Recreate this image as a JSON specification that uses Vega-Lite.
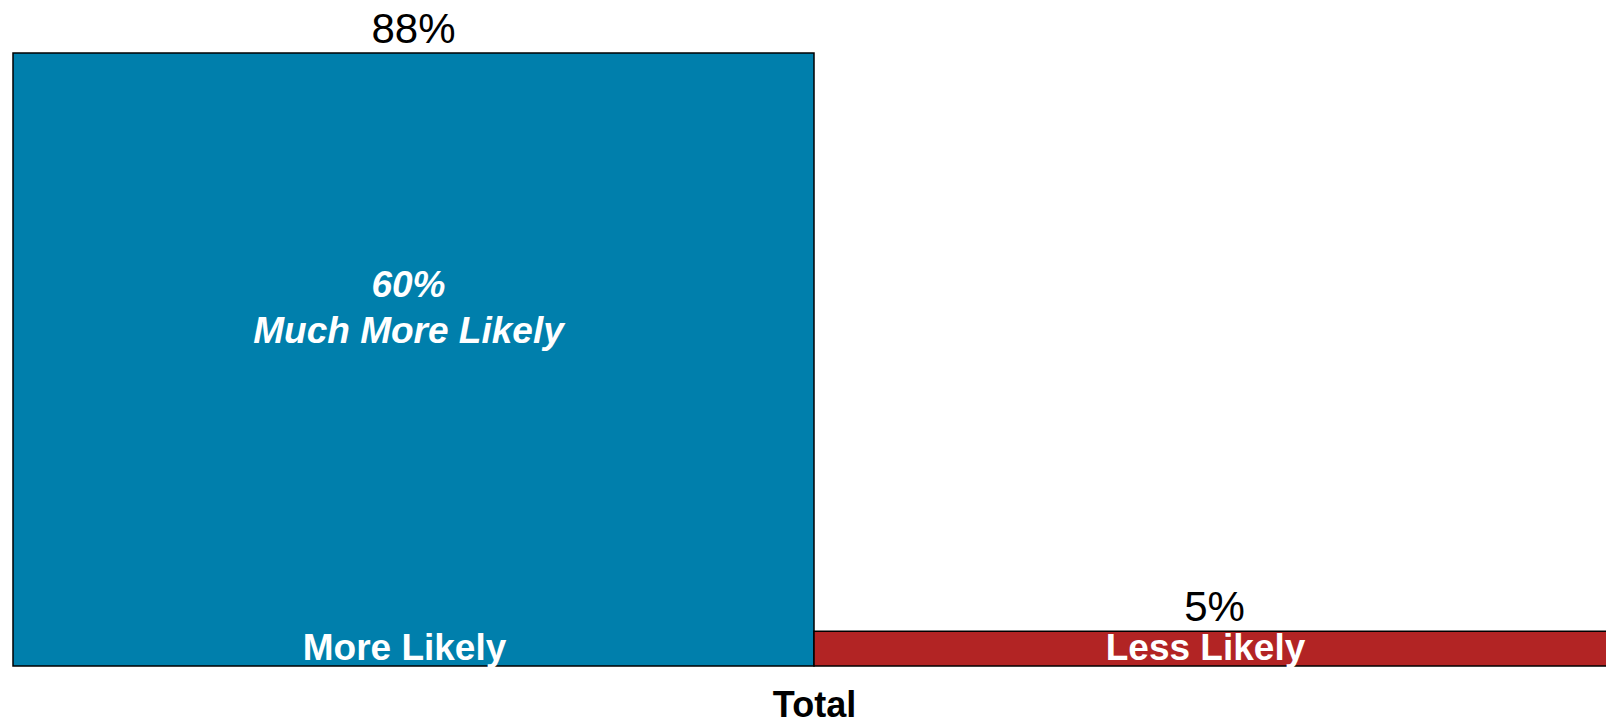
{
  "$schema": "https://vega.github.io/schema/vega-lite/v6.json",
  "autosize": "none",
  "width": 1593,
  "height": 613,
  "padding": {"left": 13, "top": 53, "right": 0, "bottom": 58},
  "background": "white",
  "config": {"view": {"stroke": null}, "font": "Liberation Sans"},
  "data": {"values": [
    {"category": "More Likely", "value": 0.88, "label": "88%", "inner": "60%\nMuch More Likely"},
    {"category": "Less Likely", "value": 0.05, "label": "5%", "inner": ""}
  ]},
  "encoding": {
    "x": {"field": "category", "type": "nominal", "sort": ["More Likely", "Less Likely"],
      "scale": {"paddingInner": 0, "paddingOuter": 0, "range": [0, 1602]},
      "axis": {"title": "Total", "labels": false, "ticks": false, "domain": false,
        "titleFont": "Liberation Sans", "titleFontSize": 36, "titleFontWeight": "bold", "titleColor": "black", "titlePadding": 22}}
  },
  "layer": [
    {
      "mark": {"type": "bar", "stroke": "black", "strokeWidth": 1.5},
      "encoding": {
        "y": {"field": "value", "type": "quantitative", "scale": {"domain": [0, 0.88], "nice": false}, "axis": null},
        "color": {"field": "category", "type": "nominal", "scale": {"domain": ["More Likely", "Less Likely"], "range": ["#007FAC", "#B22424"]}, "legend": null}
      }
    },
    {
      "mark": {"type": "text", "fontSize": 42, "color": "black", "baseline": "alphabetic", "dy": -10},
      "encoding": {
        "y": {"field": "value", "type": "quantitative"},
        "text": {"field": "label"}
      }
    },
    {
      "mark": {"type": "text", "fontSize": 37, "fontWeight": "bold", "color": "white", "baseline": "alphabetic", "dy": -6, "dx": -9},
      "encoding": {
        "y": {"datum": 0, "type": "quantitative"},
        "text": {"field": "category"}
      }
    },
    {
      "transform": [{"filter": "datum.inner != ''"}],
      "mark": {"type": "text", "fontSize": 37, "fontWeight": "bold", "fontStyle": "italic", "color": "white", "baseline": "alphabetic", "dy": 244, "dx": -5, "lineBreak": "\n", "lineHeight": 46},
      "encoding": {
        "y": {"field": "value", "type": "quantitative"},
        "text": {"field": "inner"}
      }
    }
  ]
}
